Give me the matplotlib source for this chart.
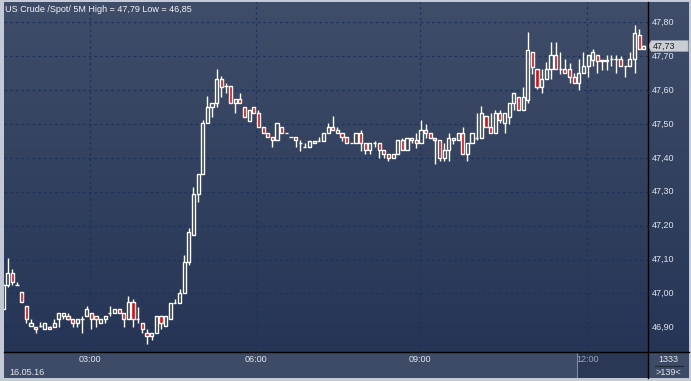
import matplotlib
matplotlib.use("Agg")
import matplotlib.pyplot as plt
import numpy as np
from matplotlib.colors import LinearSegmentedColormap
from matplotlib.patches import Polygon, Rectangle

plt.rcParams['font.family'] = ['Liberation Sans', 'DejaVu Sans']

# ---------------- data (5-minute candles, US Crude spot) ----------------
opens = [46.954, 47.025, 47.061, 47.025, 47.003, 46.963, 46.904, 46.902, 46.905, 46.894,
         46.902, 46.902, 46.924, 46.932, 46.932, 46.924, 46.912, 46.924, 46.932, 46.942,
         46.932, 46.912, 46.924, 46.942, 46.942, 46.953, 46.942, 46.924, 46.974, 46.924,
         46.912, 46.883, 46.873, 46.883, 46.934, 46.904, 46.924, 46.973, 46.973, 47.002,
         47.092, 47.173, 47.293, 47.352, 47.502, 47.551, 47.561, 47.632, 47.612, 47.612,
         47.561, 47.573, 47.551, 47.510, 47.551, 47.532, 47.492, 47.473, 47.461, 47.453,
         47.492, 47.473, 47.461, 47.461, 47.443, 47.431, 47.431, 47.443, 47.451, 47.451,
         47.473, 47.492, 47.473, 47.473, 47.461, 47.443, 47.443, 47.473, 47.443, 47.423,
         47.443, 47.443, 47.423, 47.411, 47.400, 47.411, 47.453, 47.423, 47.460, 47.453,
         47.443, 47.481, 47.473, 47.460, 47.453, 47.400, 47.423, 47.460, 47.453, 47.473,
         47.411, 47.443, 47.460, 47.460, 47.524, 47.492, 47.473, 47.532, 47.502, 47.521,
         47.561, 47.581, 47.541, 47.571, 47.711, 47.661, 47.610, 47.632, 47.661, 47.703,
         47.661, 47.661, 47.661, 47.640, 47.620, 47.651, 47.671, 47.690, 47.703, 47.686,
         47.686, 47.691, 47.691, 47.691, 47.671, 47.671, 47.691, 47.762, 47.720]
highs = [47.030, 47.104, 47.072, 47.035, 47.003, 46.963, 46.924, 46.902, 46.915, 46.912,
         46.905, 46.924, 46.942, 46.942, 46.942, 46.924, 46.924, 46.932, 46.963, 46.942,
         46.932, 46.924, 46.932, 46.963, 46.953, 46.953, 46.942, 46.993, 46.983, 46.961,
         46.912, 46.894, 46.883, 46.934, 46.934, 46.934, 46.973, 46.983, 47.012, 47.114,
         47.192, 47.315, 47.352, 47.512, 47.583, 47.561, 47.661, 47.642, 47.622, 47.612,
         47.573, 47.592, 47.551, 47.541, 47.551, 47.541, 47.492, 47.473, 47.461, 47.502,
         47.492, 47.473, 47.461, 47.461, 47.453, 47.443, 47.451, 47.451, 47.461, 47.473,
         47.502, 47.524, 47.492, 47.473, 47.461, 47.443, 47.473, 47.482, 47.443, 47.443,
         47.451, 47.443, 47.423, 47.411, 47.411, 47.453, 47.460, 47.460, 47.460, 47.473,
         47.512, 47.500, 47.473, 47.460, 47.453, 47.443, 47.473, 47.460, 47.473, 47.490,
         47.443, 47.473, 47.532, 47.554, 47.524, 47.532, 47.540, 47.540, 47.532, 47.561,
         47.590, 47.581, 47.610, 47.770, 47.711, 47.661, 47.661, 47.683, 47.743, 47.743,
         47.711, 47.691, 47.680, 47.650, 47.691, 47.711, 47.703, 47.720, 47.703, 47.690,
         47.703, 47.703, 47.703, 47.700, 47.671, 47.711, 47.792, 47.781, 47.732]
lows = [46.950, 47.020, 47.025, 47.025, 46.974, 46.912, 46.904, 46.883, 46.900, 46.894,
        46.894, 46.902, 46.902, 46.925, 46.920, 46.902, 46.902, 46.883, 46.932, 46.894,
        46.902, 46.912, 46.912, 46.932, 46.942, 46.942, 46.902, 46.924, 46.902, 46.912,
        46.883, 46.851, 46.861, 46.883, 46.894, 46.904, 46.924, 46.973, 46.973, 47.000,
        47.085, 47.173, 47.271, 47.352, 47.502, 47.521, 47.551, 47.581, 47.590, 47.561,
        47.532, 47.561, 47.521, 47.510, 47.532, 47.492, 47.473, 47.461, 47.431, 47.453,
        47.473, 47.473, 47.461, 47.431, 47.421, 47.431, 47.431, 47.443, 47.451, 47.451,
        47.473, 47.482, 47.473, 47.451, 47.443, 47.443, 47.443, 47.421, 47.412, 47.412,
        47.431, 47.400, 47.400, 47.390, 47.400, 47.411, 47.423, 47.423, 47.443, 47.430,
        47.443, 47.460, 47.460, 47.381, 47.390, 47.390, 47.390, 47.440, 47.453, 47.411,
        47.390, 47.443, 47.453, 47.460, 47.492, 47.473, 47.473, 47.502, 47.473, 47.500,
        47.541, 47.541, 47.541, 47.561, 47.648, 47.602, 47.590, 47.632, 47.632, 47.661,
        47.648, 47.651, 47.620, 47.620, 47.600, 47.651, 47.640, 47.671, 47.651, 47.660,
        47.660, 47.671, 47.651, 47.671, 47.640, 47.671, 47.651, 47.720, 47.720]
closes = [47.025, 47.061, 47.033, 47.025, 46.974, 46.924, 46.912, 46.894, 46.905, 46.912,
          46.894, 46.912, 46.942, 46.942, 46.924, 46.912, 46.924, 46.924, 46.953, 46.924,
          46.924, 46.924, 46.932, 46.942, 46.953, 46.942, 46.924, 46.974, 46.924, 46.924,
          46.894, 46.873, 46.883, 46.934, 46.912, 46.934, 46.973, 46.973, 47.002, 47.092,
          47.182, 47.293, 47.352, 47.502, 47.551, 47.561, 47.632, 47.610, 47.612, 47.561,
          47.573, 47.561, 47.521, 47.541, 47.532, 47.492, 47.473, 47.461, 47.453, 47.502,
          47.473, 47.473, 47.461, 47.453, 47.443, 47.431, 47.451, 47.451, 47.451, 47.473,
          47.492, 47.482, 47.482, 47.461, 47.443, 47.443, 47.473, 47.443, 47.423, 47.443,
          47.443, 47.423, 47.412, 47.400, 47.411, 47.453, 47.423, 47.460, 47.453, 47.443,
          47.481, 47.473, 47.460, 47.453, 47.400, 47.423, 47.460, 47.453, 47.473, 47.411,
          47.443, 47.473, 47.460, 47.532, 47.492, 47.473, 47.532, 47.512, 47.532, 47.561,
          47.590, 47.541, 47.581, 47.718, 47.669, 47.610, 47.632, 47.661, 47.703, 47.661,
          47.661, 47.651, 47.640, 47.620, 47.651, 47.671, 47.703, 47.711, 47.686, 47.690,
          47.690, 47.691, 47.691, 47.671, 47.671, 47.691, 47.769, 47.720, 47.730]

price_ticks = [47.80, 47.70, 47.60, 47.50, 47.40, 47.30, 47.20, 47.10, 47.00, 46.90]
time_labels = ["03:00", "06:00", "09:00", "12:00"]
time_pos = [18.75, 54.45, 89.8, 125.8]          # candle-index positions of the hours
date_label = "16.05.16"
title = "US Crude /Spot/ 5M High = 47,79 Low = 46,85"
last_price = closes[-1]

# ---------------- layout ----------------
W, H = 691, 381
fig = plt.figure(figsize=(W / 100, H / 100), dpi=100)
fig.patch.set_facecolor('#c3cad5')

def fx(px): return px / W
def fy(py): return 1 - py / H

L, R, T, B, BB = 4, 648, 2, 352, 378
ax = fig.add_axes([fx(L), fy(B), fx(R - L), fy(T) - fy(B)])
axr = fig.add_axes([fx(R), fy(B), fx(689 - R), fy(T) - fy(B)])
axb = fig.add_axes([fx(L), fy(BB), fx(R - L), fy(B) - fy(BB)])
axc = fig.add_axes([fx(R), fy(BB), fx(689 - R), fy(B) - fy(BB)])

cmap = LinearSegmentedColormap.from_list('bg', ['#263556', '#3f4d69'])
grad = np.linspace(0, 1, 256).reshape(-1, 1)
for a in (ax, axr):
    a.imshow(grad, extent=[0, 1, 0, 1], transform=a.transAxes, aspect='auto',
             cmap=cmap, origin='lower', zorder=0)

n = len(opens)
x = np.arange(n)
ylo, yhi = 46.827, 47.860
xlo, xhi = 0.2, 138.9
ax.set_xlim(xlo, xhi)
ax.set_ylim(ylo, yhi)
axr.set_xlim(0, 1)
axr.set_ylim(ylo, yhi)

# grid
for p in price_ticks:
    ax.axhline(p, color='#1d3259', lw=0.9, ls=(0, (2, 2.5)), zorder=1)
for t in time_pos:
    ax.axvline(t, color='#1d3259', lw=0.9, ls=(0, (2, 2.5)), zorder=1)

# candles
o = np.array(opens); h = np.array(highs); l = np.array(lows); c = np.array(closes)
top = np.maximum(o, c); bot = np.minimum(o, c)
ax.vlines(x, top, h, color='white', lw=1.0, zorder=3)
ax.vlines(x, l, bot, color='white', lw=1.0, zorder=3)
bw = 0.68
up = c >= o
ax.bar(x[up], (top - bot)[up], bottom=bot[up], width=bw, facecolor='none',
       edgecolor='white', linewidth=1.0, zorder=4)
ax.bar(x[~up], (top - bot)[~up], bottom=bot[~up], width=bw, facecolor='#f20000',
       edgecolor='white', linewidth=1.0, zorder=4)

for a in (ax, axr, axb, axc):
    a.set_xticks([]); a.set_yticks([])
    for s in a.spines.values():
        s.set_visible(False)

# right price axis
for p in price_ticks:
    axr.text(0.1, p, f"{p:.2f}".replace('.', ','), color='#dfe4ea', fontsize=6.5,
             va='center', ha='left')
# last price tag
tag_h = 0.016
poly = Polygon([[0.0, last_price], [0.08, last_price + tag_h], [0.98, last_price + tag_h],
                [0.98, last_price - tag_h], [0.08, last_price - tag_h]],
               closed=True, facecolor='#c9cdd4', edgecolor='#9aa3b0', lw=0.5, zorder=5)
axr.add_patch(poly)
axr.text(0.12, last_price, f"{last_price:.2f}".replace('.', ','), color='#202020',
         fontsize=6.5, va='center', ha='left', zorder=6)

# bottom time axis
axb.set_facecolor('#3d4b67')
axb.set_xlim(xlo, xhi)
axb.set_ylim(0, 1)
axb.add_patch(Rectangle((123.7, 0), xhi - 123.7, 1, facecolor='#2a3855', edgecolor='none'))
axb.axvline(123.7, color='#7c8799', lw=0.8)
for t, lab in zip(time_pos, time_labels):
    axb.text(t, 0.72, lab, color='#9aa3b1' if lab == "12:00" else '#e3e7ec',
             fontsize=6.5, ha='center', va='center')
axb.text(1.3, 0.22, date_label, color='#e3e7ec', fontsize=6.5, ha='left', va='center')

axc.set_facecolor('#3d4b67')
axc.set_xlim(0, 1); axc.set_ylim(0, 1)
axc.text(0.5, 0.72, "1333", color='#e3e7ec', fontsize=6.5, ha='center', va='center')
axc.plot([0.18, 0.85], [0.48, 0.48], color='#1c2638', lw=0.8)
axc.text(0.5, 0.22, ">139<", color='#e3e7ec', fontsize=6.5, ha='center', va='center')

# separators
fig.add_artist(plt.Line2D([fx(R), fx(R)], [fy(T), fy(BB)], color='black', lw=1.0))
fig.add_artist(plt.Line2D([fx(L), fx(689)], [fy(B), fy(B)], color='black', lw=1.0))

# title
fig.text(fx(5), fy(9), title, color='#f2f4f7', fontsize=6.5, ha='left', va='center')

fig.savefig('out.png', dpi=100, facecolor=fig.get_facecolor())
